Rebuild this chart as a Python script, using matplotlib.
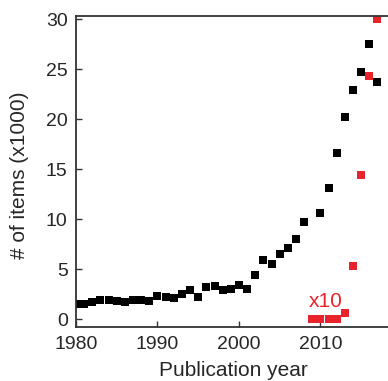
"""
Publication counts per year, with a small series scaled x10.
"""

import matplotlib

matplotlib.use("Agg")

import matplotlib.pyplot as plt

# black series: items per year (x1000), 2009 missing in the source
years = [
    1980, 1981, 1982, 1983, 1984, 1985, 1986, 1987, 1988, 1989,
    1990, 1991, 1992, 1993, 1994, 1995, 1996, 1997, 1998, 1999,
    2000, 2001, 2002, 2003, 2004, 2005, 2006, 2007, 2008,
    2010, 2011, 2012, 2013, 2014, 2015, 2016, 2017,
]

items = [
    1.5, 1.55, 1.75, 1.95, 1.95, 1.8, 1.7, 1.9, 1.95, 1.85,
    2.35, 2.2, 2.1, 2.55, 2.9, 2.2, 3.2, 3.35, 2.95, 3.0,
    3.45, 3.05, 4.45, 5.95, 5.5, 6.5, 7.1, 8.05, 9.7,
    10.6, 13.1, 16.6, 20.2, 22.9, 24.7, 27.55, 23.75,
]

# red series, already shown multiplied by 10
red_years = [2009, 2010, 2011, 2012, 2013, 2014, 2015, 2016, 2017]

red_items_x10 = [0.06, 0.06, 0.06, 0.06, 0.65, 5.3, 14.45, 24.3, 30.0]

y_ticks = [0, 5, 10, 15, 20, 25, 30]
x_ticks = [1980, 1990, 2000, 2010]

RED = "#e8232b"
GREY = "#333333"
TEXT = "#262626"

plt.rcParams["font.family"] = ["Liberation Sans", "DejaVu Sans"]
plt.rcParams["font.size"] = 14

fig = plt.figure(figsize=(3.88, 3.81), dpi=100)

ax = fig.add_axes([0.196, 0.141, 0.804, 0.817])

ax.plot(
    years,
    items,
    linestyle="none",
    marker="s",
    markersize=6.4,
    markeredgewidth=0,
    color="black",
    snap=False,
)

ax.plot(
    red_years,
    red_items_x10,
    linestyle="none",
    marker="s",
    markersize=6.4,
    markeredgewidth=0,
    color=RED,
    snap=False,
)

ax.text(
    2010.65,
    1.8,
    "x10",
    color=RED,
    ha="center",
    va="center",
    fontsize=15,
)

ax.set_xlim(1980, 2018.3)
ax.set_ylim(-0.8, 30.35)

ax.set_xticks(x_ticks)
ax.set_yticks(y_ticks)

ax.tick_params(
    direction="in",
    length=4,
    width=1,
    colors=GREY,
    labelcolor=TEXT,
    labelsize=14,
    pad=6,
)

ax.spines["right"].set_visible(False)

for side in ["left", "bottom", "top"]:
    ax.spines[side].set_color(GREY)
    ax.spines[side].set_linewidth(1.3)

ax.set_xlabel("Publication year", color=TEXT, fontsize=15)
ax.set_ylabel("# of items (x1000)", color=TEXT, fontsize=15)

ax.xaxis.set_label_coords(0.503, -0.108)
ax.yaxis.set_label_coords(-0.15, 0.49)

fig.savefig("out.png", dpi=100)

plt.close(fig)
